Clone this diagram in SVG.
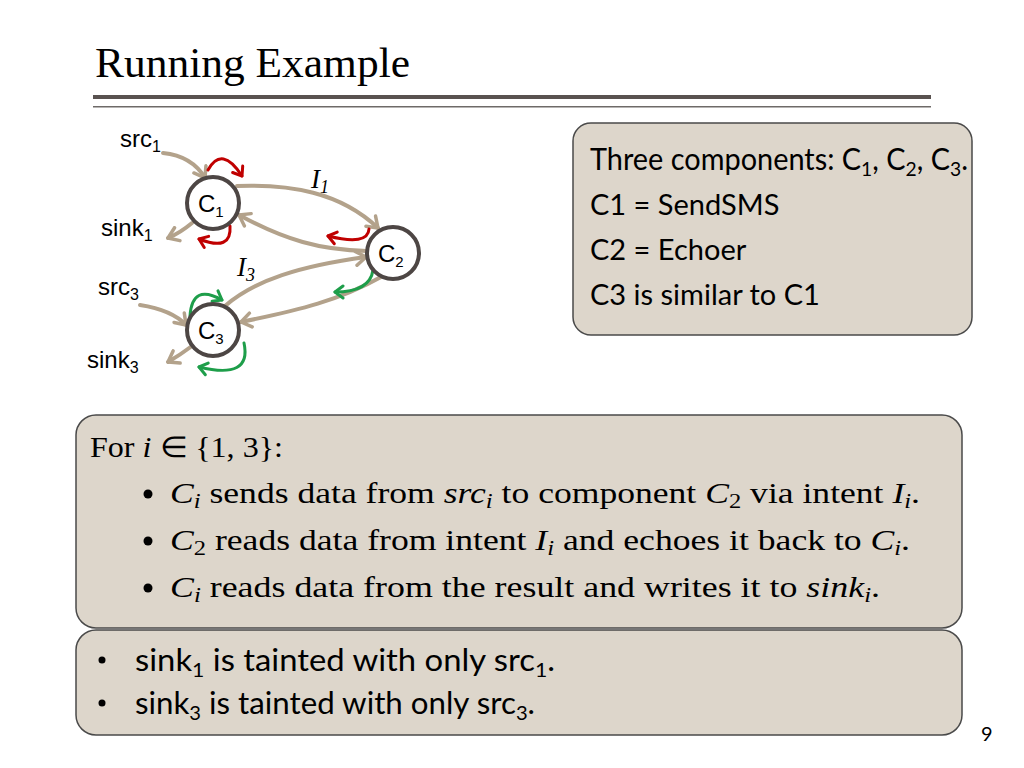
<svg xmlns="http://www.w3.org/2000/svg" width="1024" height="768" viewBox="0 0 1024 768">
<defs>
<style>
.edge{fill:none;stroke:#b3a28b;stroke-width:4;stroke-linecap:round}
.red{fill:none;stroke:#c00000;stroke-width:3;stroke-linecap:round}
.grn{fill:none;stroke:#1e9e4a;stroke-width:3;stroke-linecap:round}
.node{fill:#fff;stroke:#4d4644;stroke-width:4}
.lbl{font-family:"Liberation Sans",Arial,sans-serif;font-size:24px;fill:#000}
.cal{font-family:Lato,"Liberation Sans",sans-serif;fill:#000}
.tex{font-family:"Liberation Serif","Times New Roman",serif;font-size:29px;fill:#000}
.box{fill:#ddd6cb;stroke:#4a4a4a;stroke-width:1.5}
</style>
<marker id="ah" viewBox="-12 -9 14 18" markerWidth="14" markerHeight="18" refX="0" refY="0" orient="auto" markerUnits="userSpaceOnUse">
<path d="M-10,-7 L0,0 L-10,7" fill="none" stroke="#b3a28b" stroke-width="3.5" stroke-linecap="round" stroke-linejoin="round"/>
</marker>
<marker id="ahr" viewBox="-12 -9 14 18" markerWidth="14" markerHeight="18" refX="0" refY="0" orient="auto" markerUnits="userSpaceOnUse">
<path d="M-8,-6 L0,0 L-8,6" fill="none" stroke="#c00000" stroke-width="3" stroke-linecap="round" stroke-linejoin="round"/>
</marker>
<marker id="ahg" viewBox="-12 -9 14 18" markerWidth="14" markerHeight="18" refX="0" refY="0" orient="auto" markerUnits="userSpaceOnUse">
<path d="M-8,-6 L0,0 L-8,6" fill="none" stroke="#1e9e4a" stroke-width="3" stroke-linecap="round" stroke-linejoin="round"/>
</marker>
</defs>
<rect width="1024" height="768" fill="#fff"/>

<g id="title">
<text x="95" y="77" font-family="'Liberation Serif','Times New Roman',serif" font-size="42" textLength="315" lengthAdjust="spacingAndGlyphs" fill="#000">Running Example</text>
<rect x="93" y="95" width="838" height="4" fill="#595250"/>
<rect x="93" y="106" width="838" height="1.5" fill="#6e6a68"/>
</g>

<g id="connectors">
<path class="edge" d="M163,153 Q192,156 205,178" marker-end="url(#ah)"/>
<path class="edge" d="M192,223 Q180,233 168,238" marker-end="url(#ah)"/>
<path class="edge" d="M237,186 C290,184 340,192 378,228" marker-end="url(#ah)"/>
<path class="edge" d="M367,251 C320,250 285,240 239,215" marker-end="url(#ah)"/>
<path class="edge" d="M225,306 C255,280 300,266 366,257" marker-end="url(#ah)"/>
<path class="edge" d="M381,277 C340,300 300,310 241,322" marker-end="url(#ah)"/>
<path class="edge" d="M140,305 Q172,310 186,325" marker-end="url(#ah)"/>
<path class="edge" d="M192,346 Q180,355 168,362" marker-end="url(#ah)"/>
<path class="red" d="M208,170 Q222,145 242,176" marker-end="url(#ahr)"/>
<path class="red" d="M230,226 Q232,252 199,239" marker-end="url(#ahr)"/>
<path class="red" d="M369,229 Q368,246 328,236" marker-end="url(#ahr)"/>
<path class="grn" d="M190,316 Q192,283 222,300" marker-end="url(#ahg)"/>
<path class="grn" d="M244,343 Q252,380 199,367" marker-end="url(#ahg)"/>
<path class="grn" d="M373,270 Q370,292 335,292" marker-end="url(#ahg)"/>
</g>

<g id="node-c1">
<circle class="node" cx="213" cy="203" r="26"/>
<text class="lbl" x="198" y="212" font-size="22">C<tspan font-size="15" dy="5">1</tspan></text>
</g>
<g id="node-c2">
<circle class="node" cx="393" cy="253" r="26"/>
<text class="lbl" x="378" y="262" font-size="22">C<tspan font-size="15" dy="5">2</tspan></text>
</g>
<g id="node-c3">
<circle class="node" cx="213" cy="330" r="26"/>
<text class="lbl" x="198" y="339" font-size="22">C<tspan font-size="15" dy="5">3</tspan></text>
</g>

<g id="labels">
<text class="lbl" x="120" y="147">src<tspan font-size="16" dy="5">1</tspan></text>
<text class="lbl" x="101" y="236">sink<tspan font-size="16" dy="5">1</tspan></text>
<text class="lbl" x="98" y="295">src<tspan font-size="16" dy="5">3</tspan></text>
<text class="lbl" x="87" y="368">sink<tspan font-size="16" dy="5">3</tspan></text>
<text x="311" y="188" font-family="'Liberation Serif',serif" font-style="italic" font-size="27">I<tspan font-size="18" dy="5">1</tspan></text>
<text x="237" y="276" font-family="'Liberation Serif',serif" font-style="italic" font-size="27">I<tspan font-size="18" dy="5">3</tspan></text>
</g>

<g id="box-components">
<rect class="box" x="573" y="123" width="399" height="212" rx="18"/>
<text class="cal" x="590" y="170" font-size="30" textLength="378" lengthAdjust="spacingAndGlyphs">Three components: C<tspan font-size="20" dy="6">1</tspan><tspan dy="-6">, C</tspan><tspan font-size="20" dy="6">2</tspan><tspan dy="-6">, C</tspan><tspan font-size="20" dy="6">3</tspan><tspan dy="-6">.</tspan></text>
<text class="cal" x="590" y="215" font-size="29">C1 = SendSMS</text>
<text class="cal" x="590" y="260" font-size="29">C2 = Echoer</text>
<text class="cal" x="590" y="305" font-size="29">C3 is similar to C1</text>
</g>

<g id="box-latex">
<rect class="box" x="76" y="415" width="886" height="213" rx="20"/>
<text class="tex" x="90" y="457" textLength="193" lengthAdjust="spacingAndGlyphs">For <tspan font-style="italic">i</tspan> ∈ {1, 3}:</text>
<circle cx="148" cy="494" r="4.5" fill="#000"/>
<circle cx="148" cy="541" r="4.5" fill="#000"/>
<circle cx="148" cy="588" r="4.5" fill="#000"/>
<text class="tex" x="170" y="503" textLength="750" lengthAdjust="spacingAndGlyphs"><tspan font-style="italic">C</tspan><tspan font-style="italic" font-size="20" dy="5">i</tspan><tspan dy="-5"> sends data from </tspan><tspan font-style="italic">src</tspan><tspan font-style="italic" font-size="20" dy="5">i</tspan><tspan dy="-5"> to component </tspan><tspan font-style="italic">C</tspan><tspan font-size="20" dy="5">2</tspan><tspan dy="-5"> via intent </tspan><tspan font-style="italic">I</tspan><tspan font-style="italic" font-size="20" dy="5">i</tspan><tspan dy="-5">.</tspan></text>
<text class="tex" x="170" y="550" textLength="740" lengthAdjust="spacingAndGlyphs"><tspan font-style="italic">C</tspan><tspan font-size="20" dy="5">2</tspan><tspan dy="-5"> reads data from intent </tspan><tspan font-style="italic">I</tspan><tspan font-style="italic" font-size="20" dy="5">i</tspan><tspan dy="-5"> and echoes it back to </tspan><tspan font-style="italic">C</tspan><tspan font-style="italic" font-size="20" dy="5">i</tspan><tspan dy="-5">.</tspan></text>
<text class="tex" x="170" y="597" textLength="710" lengthAdjust="spacingAndGlyphs"><tspan font-style="italic">C</tspan><tspan font-style="italic" font-size="20" dy="5">i</tspan><tspan dy="-5"> reads data from the result and writes it to </tspan><tspan font-style="italic">sink</tspan><tspan font-style="italic" font-size="20" dy="5">i</tspan><tspan dy="-5">.</tspan></text>
</g>

<g id="box-taint">
<rect class="box" x="76" y="630" width="886" height="105" rx="20"/>
<circle cx="102" cy="660" r="3.5" fill="#000"/>
<circle cx="102" cy="703" r="3.5" fill="#000"/>
<text class="cal" x="135" y="671" font-size="31" textLength="420" lengthAdjust="spacingAndGlyphs">sink<tspan font-size="20" dy="6">1</tspan><tspan dy="-6"> is tainted with only src</tspan><tspan font-size="20" dy="6">1</tspan><tspan dy="-6">.</tspan></text>
<text class="cal" x="135" y="714" font-size="31" textLength="400" lengthAdjust="spacingAndGlyphs">sink<tspan font-size="20" dy="6">3</tspan><tspan dy="-6"> is tainted with only src</tspan><tspan font-size="20" dy="6">3</tspan><tspan dy="-6">.</tspan></text>
</g>

<text class="cal" x="981" y="741" font-size="20">9</text>
</svg>
